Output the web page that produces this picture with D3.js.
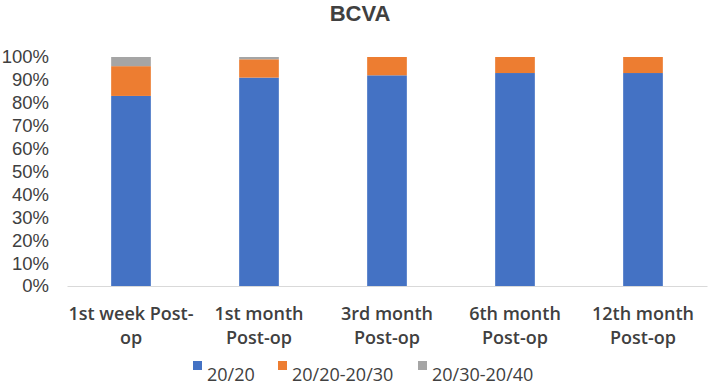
<!DOCTYPE html>
<html>
<head>
<meta charset="utf-8">
<script src="https://cdn.jsdelivr.net/npm/d3@7"></script>
<style>
  html, body { margin: 0; padding: 0; background: #fff; }
  svg { display: block; font-family: "Open Sans", sans-serif; }
</style>
</head>
<body>
<svg id="chart" width="708" height="385"></svg>
<script>
const categories = ["1st week Post-op", "1st month Post-op", "3rd month Post-op", "6th month Post-op", "12th month Post-op"];
const categoryLines = [["1st week Post-", "op"], ["1st month", "Post-op"], ["3rd month", "Post-op"], ["6th month", "Post-op"], ["12th month", "Post-op"]];
const seriesNames = ["20/20", "20/20-20/30", "20/30-20/40"];
const vals2020 = [83, 91, 92, 93, 93];
const vals2030 = [13, 8, 8, 7, 7];
const vals2040 = [4, 1, 0, 0, 0];
const yTicks = [0, 10, 20, 30, 40, 50, 60, 70, 80, 90, 100];
const colors = ["#4472C4", "#ED7D31", "#A5A5A5"];

const width = 708;
const height = 385;
const textColor = "#404040";

const rows = categories.map((c, i) => ({
  cat: c,
  "20/20": vals2020[i],
  "20/20-20/30": vals2030[i],
  "20/30-20/40": vals2040[i],
}));
const stacked = d3.stack().keys(seriesNames)(rows);

const svg = d3.select("#chart");

const x = d3.scaleBand()
  .domain(categories)
  .range([67, 707])
  .paddingInner(0.69)
  .paddingOuter(0.345);

const y = d3.scaleLinear()
  .domain([0, 100])
  .range([286, 57]);

// title
svg.append("text")
  .attr("x", 360)
  .attr("y", 21)
  .attr("text-anchor", "middle")
  .attr("font-size", 22)
  .attr("font-weight", 700)
  .attr("font-family", "Liberation Sans, Arial, sans-serif")
  .attr("fill", textColor)
  .text("BCVA");

// y axis labels
const yAxis = svg.append("g")
  .attr("transform", "translate(49,0)")
  .call(d3.axisLeft(y).tickValues(yTicks).tickFormat(d => d + "%").tickSize(0).tickPadding(0));
yAxis.select(".domain").remove();
yAxis.selectAll("text")
  .attr("font-size", 18.5)
  .attr("font-family", "Liberation Sans, Arial, sans-serif")
  .attr("fill", textColor);

// bars
svg.append("g")
  .selectAll("g")
  .data(stacked)
  .join("g")
  .attr("fill", (d, i) => colors[i])
  .selectAll("rect")
  .data(d => d)
  .join("rect")
  .attr("x", d => x(d.data.cat))
  .attr("y", d => y(d[1]))
  .attr("width", x.bandwidth())
  .attr("height", d => y(d[0]) - y(d[1]));

// x axis
const xAxis = svg.append("g")
  .attr("transform", "translate(0,286)")
  .call(d3.axisBottom(x).tickSize(0).tickFormat(""));
xAxis.select(".domain").attr("stroke", "#d9d9d9").attr("stroke-width", 1);

xAxis.selectAll(".tick text").remove();
xAxis.selectAll(".tick").each(function (d, i) {
  const t = d3.select(this).append("text")
    .attr("text-anchor", "middle")
    .attr("font-size", 18)
    .attr("font-weight", 600)
    .attr("font-family", "Open Sans, sans-serif")
    .attr("fill", textColor);
  categoryLines[i].forEach((line, j) => {
    t.append("tspan")
      .attr("x", 0)
      .attr("y", 34 + j * 24)
      .text(line);
  });
});

// legend
const legendX = [193, 278, 418];
const legend = svg.append("g");
seriesNames.forEach((name, i) => {
  const g = legend.append("g").attr("transform", `translate(${legendX[i]},0)`);
  g.append("rect")
    .attr("x", 0)
    .attr("y", 361)
    .attr("width", 9)
    .attr("height", 9)
    .attr("fill", colors[i]);
  g.append("text")
    .attr("x", 14)
    .attr("y", 381)
    .attr("font-size", 18)
    .attr("fill", textColor)
    .text(name);
});
</script>
</body>
</html>
